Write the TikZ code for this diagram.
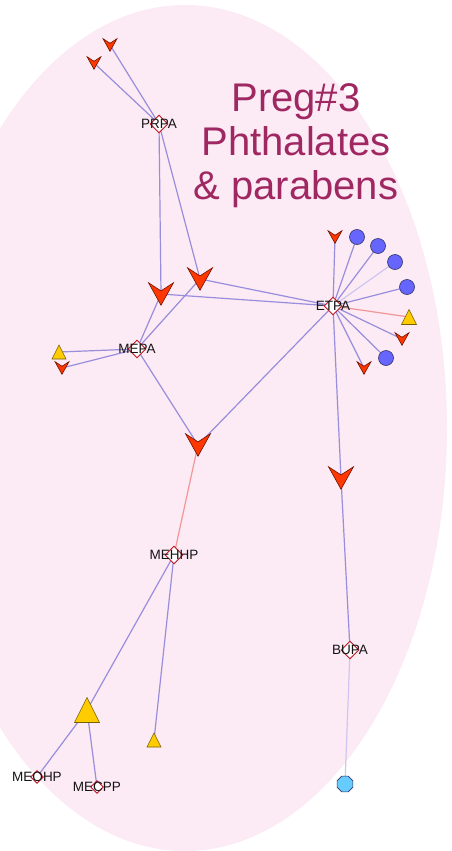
\documentclass[tikz,border=0pt]{standalone}
\usepackage{fontspec}
\setmainfont{Liberation Sans}
\usepackage{xcolor}
\usepackage{tikz}
\usetikzlibrary{shapes.geometric}
\pgfdeclarelayer{back}
\pgfdeclarelayer{bg}
\pgfsetlayers{back,bg,main}

\begin{document}
\begin{tikzpicture}[x=1pt, y=-1pt,
    link/.style={edgeblue, line width=1.2pt},
    redlink/.style={edgepink, line width=1.2pt},
    palelink/.style={edgepale, line width=1.2pt},
    metab/.style={diamond, draw=diamondred, fill=white, line width=0.9pt, inner sep=0pt, minimum size=18pt},
    smallmetab/.style={metab, minimum size=13pt},
    lbl/.style={text=labelgray, font=\fontsize{13.5}{13.5}\selectfont, inner sep=0pt},
    dot/.style={circle, draw=shapeedge, fill=dotblue, line width=0.6pt, inner sep=0pt, minimum size=15pt},
    octa/.style={regular polygon, regular polygon sides=8, draw=shapeedge, fill=octblue, line width=0.6pt, inner sep=0pt, minimum size=17pt},
    chev/.pic={\filldraw[fill=chevred, draw=chevedge, line width=0.6pt] (-1,-0.9) -- (0,0.9) -- (1,-0.9) -- (0,-0.25) -- cycle;},
    tri/.pic={\filldraw[fill=trigold, draw=triedge, line width=0.6pt] (0,-1) -- (1,1) -- (-1,1) -- cycle;}
]
    % Define colors
    \definecolor{bgpink}{RGB}{252,234,245}    % Cluster background
    \definecolor{titlecolor}{RGB}{160,40,98}  % Title
    \definecolor{edgeblue}{RGB}{152,142,220}  % Usual link
    \definecolor{edgepink}{RGB}{242,150,152}  % Red link
    \definecolor{edgepale}{RGB}{206,198,240}  % Faint link
    \definecolor{diamondred}{RGB}{190,20,30}
    \definecolor{labelgray}{RGB}{20,20,20}
    \definecolor{chevred}{RGB}{255,55,0}
    \definecolor{chevedge}{RGB}{110,20,0}
    \definecolor{trigold}{RGB}{255,204,0}
    \definecolor{triedge}{RGB}{120,95,0}
    \definecolor{dotblue}{RGB}{102,102,255}
    \definecolor{octblue}{RGB}{102,204,255}
    \definecolor{shapeedge}{RGB}{50,50,100}

    \useasboundingbox (0,0) rectangle (451,851);

    % Cluster background
    \begin{pgfonlayer}{back}
        \fill[bgpink] (185,428) ellipse [x radius=262pt, y radius=423pt];
    \end{pgfonlayer}

    % Title
    \node[titlecolor, align=center, inner sep=0pt, font=\fontsize{40}{44}\selectfont] (title) at (296,146) {Preg\#3\\Phthalates\\\& parabens};

    % Metabolites
    \foreach \n/\x/\y/\txt in {prpa/159/124/PRPA, etpa/333/306/ETPA, mepa/137/349/MEPA, mehhp/174/555/MEHHP, bupa/350/650/BUPA} {
        \node[metab] (\n) at (\x,\y) {};
        \node[lbl] (\n-l) at (\n) {\txt};
    }
    \foreach \n/\x/\y/\txt in {meohp/37/777/MEOHP, mecpp/97/787/MECPP} {
        \node[smallmetab] (\n) at (\x,\y) {};
        \node[lbl] (\n-l) at (\n) {\txt};
    }

    % Chevrons
    \foreach \n/\x/\y/\s in {pv1/110/45/7, pv2/94/63/7, bv1/161/294/12.5, bv2/200/279/12.5,
                             mv1/62/368/7, bv3/198/445/12.5, bv4/341/478/12.5,
                             ev1/335/237/7, ev2/402/339/7, ev3/364/368/7} {
        \coordinate (\n) at (\x,\y);
        \pic[scale=\s] at (\n) {chev};
    }

    % Triangles
    \foreach \n/\x/\y/\s in {mt1/59/352/7, et1/409/317/7.5, bt1/87/710/12.5, mt2/154/740/7} {
        \coordinate (\n) at (\x,\y);
        \pic[scale=\s] at (\n) {tri};
    }

    % Circles
    \foreach \n/\x/\y in {ec1/357/237, ec2/378/246, ec3/395/262, ec4/407/287, ec5/386/358} {
        \node[dot] (\n) at (\x,\y) {};
    }
    \node[octa] (oct) at (345,784) {};

    % Links
    \begin{pgfonlayer}{bg}
        \foreach \a/\b in {prpa/pv1, prpa/pv2, prpa/bv1, prpa/bv2, bv1/etpa, bv2/etpa,
                           mepa/bv1, mepa/bv2, mepa/mt1, mepa/mv1, mepa/bv3, etpa/bv3,
                           mehhp/bt1, mehhp/mt2, bt1/meohp, bt1/mecpp,
                           etpa/ev1, etpa/ec1, etpa/ec2, etpa/ec4, etpa/ev2, etpa/ec5, etpa/ev3,
                           etpa/bv4, bv4/bupa} {
            \draw[link] (\a.center) -- (\b.center);
        }
        \draw[palelink] (etpa.center) -- (ec3.center);
        \draw[redlink] (etpa.center) -- (et1);
        \draw[redlink] (bv3) -- (mehhp.center);
        \draw[palelink] (bupa.center) -- (oct.center);
    \end{pgfonlayer}
\end{tikzpicture}
\end{document}
